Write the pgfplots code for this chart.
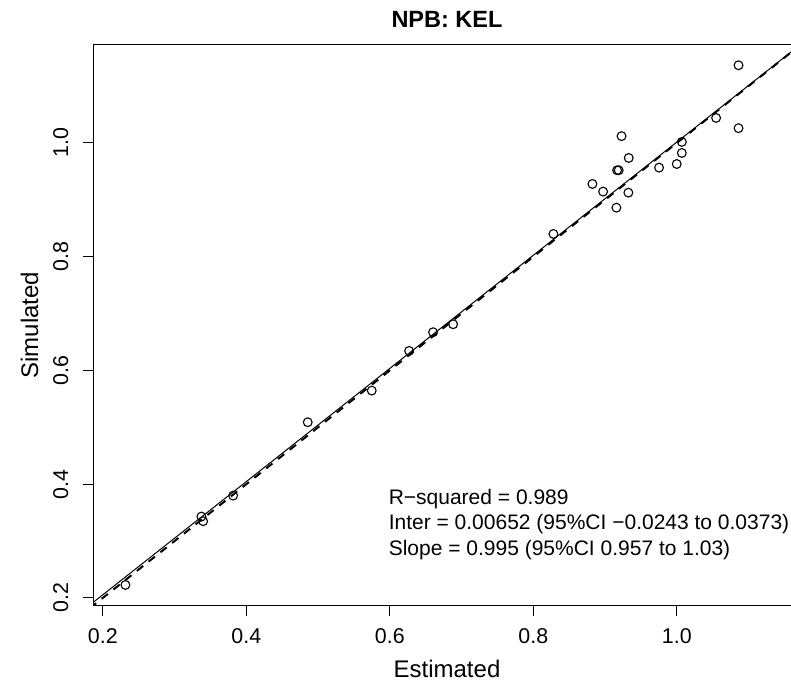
\documentclass[border=0pt]{standalone}
\usepackage{fontspec}
\setmainfont{Liberation Sans}
\usepackage{pgfplots}
\pgfplotsset{compat=1.18}
\begin{document}
\begin{tikzpicture}
\begin{axis}[name=ax, at={(0,0)}, anchor=south west,
  scale only axis, width=354pt, height=280.6pt,
  xmin=0.1863, xmax=1.1731, ymin=0.1863, ymax=1.1731,
  xtick={0.2,0.4,0.6,0.8,1.0}, xticklabels={0.2,0.4,0.6,0.8,1.0},
  ytick={0.2,0.4,0.6,0.8,1.0}, yticklabels={0.2,0.4,0.6,0.8,1.0},
  tick align=outside, xtick pos=bottom, ytick pos=left,
  major tick length=5pt,
  tick style={black, line width=0.5pt},
  axis line style={black, line width=0.5pt},
  ticklabel style={font=\fontsize{10.7}{12}\selectfont},
  xticklabel style={anchor=base}, xticklabel shift=14pt,
  yticklabel style={rotate=90, anchor=base}, yticklabel shift=7.5pt,
  clip=true]
\addplot[black, line width=0.5pt] coordinates {(0.1,0.10602) (1.3,1.30002)};
\addplot[black, line width=1pt, dash pattern=on 4pt off 3.5pt] coordinates {(0.1,0.1) (1.3,1.3)};
\addplot[only marks, mark=o, mark size=2.2pt, mark options={black, line width=0.55pt}] coordinates {
(1.086,1.1366) (1.0548,1.044) (1.086,1.026) (0.923,1.012) (1.007,1.0018)
(0.933,0.9736) (1.007,0.9824) (0.9168,0.952) (0.919,0.952) (0.9753,0.9566)
(0.9999,0.963) (0.8824,0.9279) (0.8973,0.9144) (0.9325,0.9126) (0.9158,0.8862)
(0.828,0.840) (0.6882,0.6812) (0.6603,0.6672) (0.6269,0.6343) (0.5748,0.5645)
(0.4856,0.5089) (0.3816,0.3799) (0.3374,0.343) (0.3398,0.3349) (0.2315,0.2228)
};
\node[anchor=base west, inner sep=0pt, font=\fontsize{10.5}{12}\selectfont] at (axis cs:0.598,0.3635) {R−squared = 0.989};
\node[anchor=base west, inner sep=0pt, font=\fontsize{10.5}{12}\selectfont] at (axis cs:0.598,0.3196) {Inter = 0.00652 (95\%CI −0.0243 to 0.0373)};
\node[anchor=base west, inner sep=0pt, font=\fontsize{10.5}{12}\selectfont] at (axis cs:0.598,0.2738) {Slope = 0.995 (95\%CI 0.957 to 1.03)};
\end{axis}
\node[anchor=base, font=\fontsize{12}{14}\selectfont] at ([yshift=-36pt]ax.south) {Estimated};
\node[anchor=base, rotate=90, font=\fontsize{12}{14}\selectfont] at ([xshift=-27.5pt]ax.west) {Simulated};
\node[anchor=base, font=\bfseries\fontsize{11.75}{14}\selectfont] at ([yshift=8.75pt]ax.north) {NPB: KEL};
\pgfresetboundingbox
\path[use as bounding box] ([xshift=-46.5pt, yshift=-40.25pt]ax.south west) rectangle ([xshift=349pt, yshift=302.85pt]ax.south west);
\end{tikzpicture}
\end{document}
